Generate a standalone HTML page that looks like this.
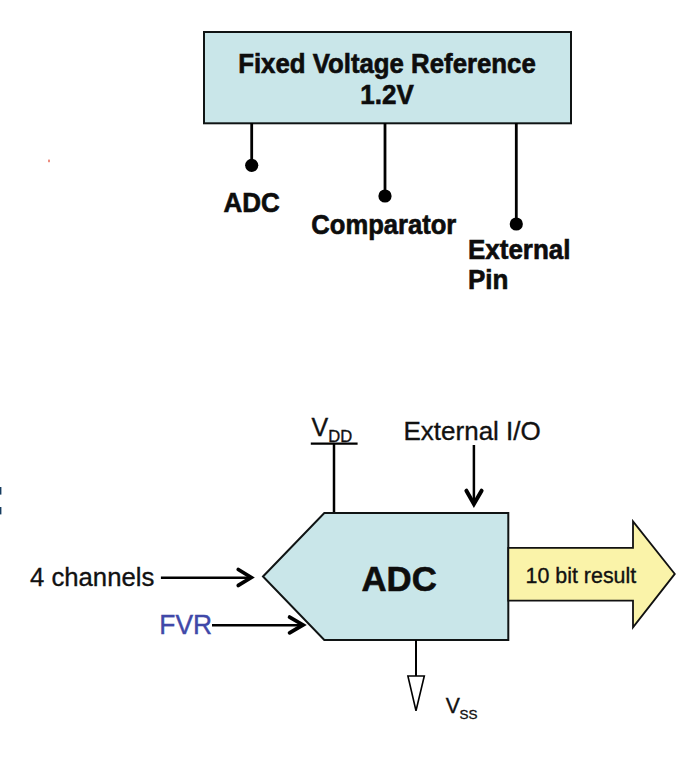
<!DOCTYPE html>
<html>
<head>
<meta charset="utf-8">
<style>
html,body{margin:0;padding:0;background:#ffffff;width:700px;height:757px;overflow:hidden;}
svg{display:block;}
text{font-family:"Liberation Sans",sans-serif;}
.b{font-weight:bold;stroke:#0d0d0d;stroke-width:0.6;}
.r{stroke:#111;stroke-width:0.35;}
.fv{stroke:#4048a8;stroke-width:0.4;}
</style>
</head>
<body>
<svg width="700" height="757" viewBox="0 0 700 757">
  <!-- FVR box -->
  <rect x="204" y="32" width="367" height="91.3" fill="#c9e6e9" stroke="#101414" stroke-width="2"/>
  <text class="b" transform="matrix(1 0 0 1.05 0 -3.665)" x="387" y="73.3" font-size="25.8" text-anchor="middle" fill="#0d0d0d">Fixed Voltage Reference</text>
  <text class="b" transform="matrix(1 0 0 1.05 0 -5.185)" x="387" y="103.7" font-size="26" text-anchor="middle" fill="#0d0d0d">1.2V</text>

  <!-- pins -->
  <line x1="251.7" y1="123" x2="251.7" y2="165" stroke="#000" stroke-width="2.8"/>
  <circle cx="251.7" cy="165.3" r="6.6" fill="#000"/>
  <line x1="385" y1="123" x2="385" y2="196" stroke="#000" stroke-width="2.8"/>
  <circle cx="385" cy="196" r="6.6" fill="#000"/>
  <line x1="516.3" y1="123" x2="516.3" y2="224" stroke="#000" stroke-width="2.8"/>
  <circle cx="516.3" cy="224" r="6.6" fill="#000"/>

  <text class="b" transform="matrix(1 0 0 1.05 0 -10.620)" x="223.6" y="212.4" font-size="26" fill="#0d0d0d">ADC</text>
  <text class="b" transform="matrix(1 0 0 1.05 0 -11.685)" x="311.3" y="233.7" font-size="25.6" fill="#0d0d0d">Comparator</text>
  <text class="b" transform="matrix(1 0 0 1.05 0 -12.975)" x="468" y="259.5" font-size="26" fill="#0d0d0d">External</text>
  <text class="b" transform="matrix(1 0 0 1.05 0 -14.465)" x="468" y="289.3" font-size="26" fill="#0d0d0d">Pin</text>

  <!-- tiny red mark -->
  <rect x="48" y="159.6" width="2" height="2.6" fill="#e87060" opacity="0.8"/>
  <!-- left edge blue marks -->
  <rect x="0" y="487" width="1.4" height="7.6" fill="#163c60"/>
  <rect x="0" y="507" width="1.4" height="7.4" fill="#163c60"/>

  <!-- VDD -->
  <text class="r" x="311.6" y="436" font-size="25" fill="#111">V</text>
  <text class="r" x="328.2" y="442.2" font-size="16.6" fill="#111">DD</text>
  <line x1="310.8" y1="443.6" x2="357.6" y2="443.6" stroke="#000" stroke-width="2.4"/>
  <line x1="334" y1="443" x2="334" y2="513" stroke="#000" stroke-width="2.5"/>

  <!-- External I/O -->
  <text class="r" x="403.5" y="439.7" font-size="26" fill="#111">External I/O</text>
  <line x1="473.9" y1="445" x2="473.9" y2="503" stroke="#000" stroke-width="2.5"/>
  <polyline points="466.4,490.7 473.9,504 481.6,490.7" fill="none" stroke="#000" stroke-width="4" stroke-linecap="round" stroke-linejoin="miter"/>

  <!-- ADC hexagon -->
  <polygon points="263,576.5 324.3,513 508.3,513 508.3,640 324.3,640" fill="#c9e6e9" stroke="#101414" stroke-width="2"/>
  <text class="b" transform="matrix(1 0 0 1.035 0 -20.685)" x="399.2" y="591" font-size="34.8" text-anchor="middle" fill="#0d0d0d" stroke-width="0.9">ADC</text>

  <!-- result arrow -->
  <polygon points="508.3,547.8 633,547.8 633,521.4 674.8,573.9 633,627.3 633,600.6 508.3,600.6" fill="#faf3a9" stroke="#111" stroke-width="1.8" stroke-linejoin="miter"/>
  <text class="r" x="525.6" y="582.7" font-size="21.4" fill="#111">10 bit result</text>

  <!-- 4 channels -->
  <text class="r" x="30" y="586.3" font-size="25.7" fill="#111">4 channels</text>
  <line x1="160.9" y1="577.7" x2="250" y2="577.7" stroke="#000" stroke-width="2.5"/>
  <polyline points="238.3,569.5 251.2,577.5 238.3,585.4" fill="none" stroke="#000" stroke-width="3.8" stroke-linecap="round"/>

  <!-- FVR -->
  <text class="fv" transform="matrix(1 0 0 1.05 0 -31.680)" x="159.3" y="633.6" font-size="26.4" fill="#4048a8">FVR</text>
  <line x1="212" y1="625.2" x2="302" y2="625.2" stroke="#000" stroke-width="2.5"/>
  <polyline points="289.6,617.1 303,624.9 289.6,632.8" fill="none" stroke="#000" stroke-width="3.8" stroke-linecap="round"/>

  <!-- VSS -->
  <line x1="416" y1="640" x2="416" y2="676" stroke="#000" stroke-width="2"/>
  <polygon points="407.9,676 424.3,676 416,710.7" fill="#fff" stroke="#000" stroke-width="1.6"/>
  <text class="r" x="445.8" y="713.2" font-size="21.2" fill="#111">V</text>
  <text class="r" x="459.5" y="719.3" font-size="13.5" fill="#111">SS</text>
</svg>
</body>
</html>
